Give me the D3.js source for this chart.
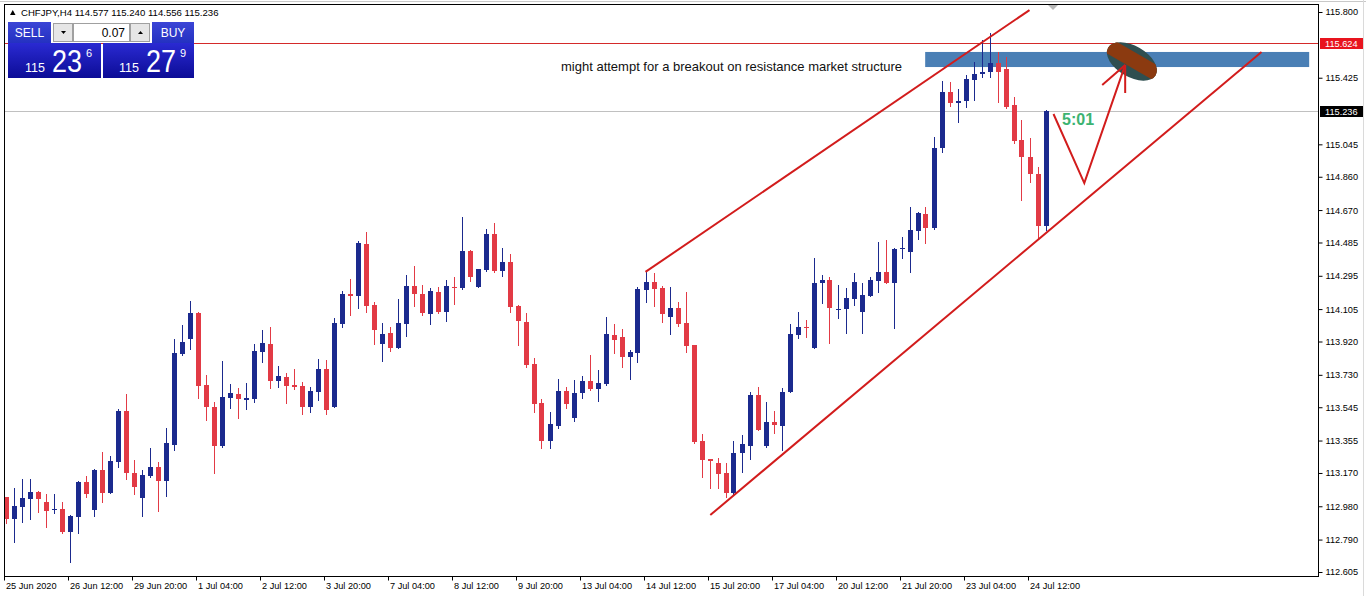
<!DOCTYPE html>
<html><head><meta charset="utf-8">
<script src="https://cdn.jsdelivr.net/npm/d3@7"></script>
<style>
html,body{margin:0;padding:0;background:#fff;overflow:hidden;}
svg{display:block;}
text{font-family:"Liberation Sans",Arial,sans-serif;}
</style></head><body>
<svg id="c" width="1366" height="596"></svg>
<script>
// ---- data (CHFJPY H4, 25 Jun 2020 04:00 .. 24 Jul 2020 20:00) ----
const symbol = "CHFJPY,H4";
const opens = [113.033,112.908,112.976,113.022,113.062,113.005,112.965,112.965,112.833,112.919,
113.119,112.959,113.187,113.056,113.233,113.524,113.170,113.027,113.153,113.204,
113.124,113.330,113.849,113.935,114.083,113.672,113.547,113.324,113.598,113.621,
113.587,113.592,113.860,113.906,113.695,113.718,113.672,113.666,113.547,113.632,
113.763,113.547,114.020,114.191,114.180,114.477,114.129,113.906,113.969,113.883,
114.020,114.237,114.191,114.077,114.203,114.089,114.231,114.226,114.437,114.231,
114.328,114.534,114.322,114.374,114.123,114.032,113.792,113.569,113.353,113.438,
113.638,113.484,113.626,113.695,113.649,113.678,113.957,113.946,113.832,113.855,
114.214,114.260,114.226,114.060,114.111,114.026,113.900,113.353,113.250,113.227,
113.170,113.056,113.284,113.324,113.615,113.324,113.461,113.438,113.632,113.957,
114.003,113.883,114.254,114.271,114.106,114.106,114.163,114.089,114.180,114.265,
114.317,114.254,114.448,114.431,114.551,114.648,114.568,115.024,115.344,115.281,
115.292,115.412,115.446,115.458,115.509,115.475,115.270,115.070,114.973,114.876,
114.577];
const highs = [113.033,113.085,113.136,113.136,113.067,113.050,113.050,113.005,112.930,113.124,
113.153,113.193,113.290,113.267,113.535,113.621,113.244,113.187,113.313,113.233,
113.427,113.935,114.014,114.151,114.089,113.729,113.575,113.809,113.678,113.655,
113.684,113.906,113.986,114.003,113.780,113.741,113.763,113.689,113.661,113.820,
113.815,114.054,114.208,114.277,114.494,114.545,114.146,114.026,114.003,114.163,
114.300,114.351,114.243,114.226,114.231,114.271,114.288,114.631,114.442,114.334,
114.562,114.596,114.454,114.419,114.129,114.083,113.826,113.592,113.518,113.706,
113.661,113.701,113.723,113.843,113.758,114.060,114.020,113.992,113.872,114.231,
114.317,114.311,114.237,114.231,114.146,114.203,113.900,113.393,113.250,113.256,
113.227,113.353,113.387,113.632,113.661,113.575,113.524,113.655,114.020,114.089,
114.043,114.397,114.300,114.288,114.243,114.226,114.311,114.254,114.288,114.488,
114.499,114.454,114.516,114.688,114.659,114.688,115.087,115.406,115.401,115.361,
115.441,115.515,115.640,115.680,115.572,115.543,115.315,115.184,115.081,114.916,
115.240];
const lows = [112.885,112.776,112.891,112.908,112.948,112.862,112.942,112.828,112.662,112.828,
113.033,112.925,113.005,113.056,113.204,113.136,113.050,112.925,113.147,112.953,
113.039,113.301,113.843,113.878,113.598,113.472,113.170,113.318,113.541,113.484,
113.535,113.575,113.803,113.655,113.661,113.569,113.649,113.507,113.518,113.587,
113.507,113.547,114.003,114.071,114.111,114.089,113.906,113.809,113.866,113.883,
113.952,114.123,114.071,114.020,114.083,114.037,114.134,114.220,114.265,114.231,
114.322,114.317,114.294,114.089,113.900,113.775,113.518,113.313,113.313,113.427,
113.541,113.467,113.598,113.644,113.581,113.672,113.855,113.775,113.706,113.803,
114.146,114.123,114.032,113.963,114.009,113.860,113.341,113.147,113.085,113.085,
113.033,113.045,113.176,113.250,113.415,113.318,113.398,113.301,113.632,113.940,
113.946,113.883,114.140,113.912,114.054,113.969,114.129,113.969,114.180,114.203,
114.254,113.997,114.397,114.317,114.505,114.482,114.562,115.001,115.264,115.173,
115.258,115.298,115.429,115.429,115.287,115.252,115.053,114.728,114.830,114.511,
114.556];
const closes = [112.908,112.982,113.027,113.062,113.022,112.953,112.966,112.833,112.925,113.119,
113.050,113.187,113.056,113.238,113.524,113.170,113.090,113.159,113.204,113.124,
113.341,113.855,113.917,114.083,113.666,113.547,113.324,113.604,113.626,113.592,
113.598,113.866,113.912,113.695,113.723,113.666,113.661,113.547,113.638,113.763,
113.530,114.026,114.191,114.180,114.482,114.123,113.986,113.963,113.883,114.026,
114.237,114.191,114.083,114.208,114.089,114.237,114.226,114.437,114.288,114.334,
114.534,114.322,114.374,114.117,114.037,113.786,113.564,113.353,113.450,113.638,
113.564,113.626,113.695,113.649,113.684,113.963,113.929,113.832,113.860,114.220,
114.260,114.220,114.077,114.111,114.020,113.895,113.347,113.244,113.238,113.164,
113.056,113.284,113.336,113.615,113.415,113.461,113.444,113.632,113.963,114.003,
113.997,114.254,114.271,114.111,114.106,114.168,114.260,114.186,114.271,114.317,
114.254,114.448,114.454,114.556,114.653,114.568,115.024,115.344,115.281,115.292,
115.418,115.446,115.458,115.509,115.458,115.258,115.064,114.973,114.876,114.579,
115.236];
const xTickLabels = ["25 Jun 2020","26 Jun 12:00","29 Jun 20:00","1 Jul 04:00","2 Jul 12:00",
"3 Jul 20:00","7 Jul 04:00","8 Jul 12:00","9 Jul 20:00","13 Jul 04:00","14 Jul 12:00",
"15 Jul 20:00","17 Jul 04:00","20 Jul 12:00","21 Jul 20:00","23 Jul 04:00","24 Jul 12:00"];
const xTickBars = [0,8,16,24,32,40,48,56,64,72,80,88,96,104,112,120,128];
const yTickValues = [115.800,115.425,115.045,114.860,114.670,114.485,114.295,114.105,
113.920,113.730,113.545,113.355,113.170,112.980,112.790,112.605];
const bidPrice = 115.236;
const resistancePrice = 115.624;
const sellPrice = ["115","23","6"];
const buyPrice = ["115","27","9"];
const lotSize = "0.07";
// drawn objects: [bar index, price]
const upperChannel = [[80,114.317],[128,115.811]];
const lowerChannel = [[88.1,112.930],[157,115.572]];
const vArrow = [[131,115.218],[134.85,114.824],[139.96,115.498]];
const arrowHeadA = [[139.96,115.498],[137.09,115.384]];
const arrowHeadB = [[139.96,115.498],[139.96,115.338]];
const zoneBox = {x0:114.96, x1:162.96, p0:115.572, p1:115.486};
const ellipseCenter = [140.8,115.518];
const noteText = "might attempt for a breakout on resistance market structure";
const timerText = "5:01";

// ---- layout ----
const W=1366,H=596;
const L=4,R=1318,T=4,B=576;
const svg=d3.select("#c");
const x=d3.scaleLinear().domain([0,130]).range([5.5,1045.5]);
const y=d3.scaleLinear().domain([112.605,115.800]).range([572,12]);
const BLUE="#1b2a8e", RED="#e23a45";

// window chrome
svg.append("rect").attr("width",W).attr("height",H).attr("fill","#fff");
svg.append("line").attr("x1",0).attr("x2",W).attr("y1",1.5).attr("y2",1.5).attr("stroke","#c8c8c8");
svg.append("line").attr("x1",1363.5).attr("x2",1363.5).attr("y1",0).attr("y2",H).attr("stroke","#dadada");

const plot=svg.append("g");
const clipId="plotclip";
const defs=svg.append("defs");
defs.append("clipPath").attr("id",clipId).append("rect")
  .attr("x",L+1).attr("y",T+1).attr("width",R-L-1).attr("height",B-T-1);
const inner=plot.append("g").attr("clip-path",`url(#${clipId})`);

// zone rectangle
inner.append("rect")
  .attr("x",x(zoneBox.x0)).attr("width",x(zoneBox.x1)-x(zoneBox.x0))
  .attr("y",y(zoneBox.p0)).attr("height",y(zoneBox.p1)-y(zoneBox.p0))
  .attr("fill","#4a7fb5");

// bid line
inner.append("line").attr("x1",L).attr("x2",R)
  .attr("y1",Math.round(y(bidPrice))+0.5).attr("y2",Math.round(y(bidPrice))+0.5)
  .attr("stroke","#c0c0c0");
// resistance line
inner.append("line").attr("x1",L).attr("x2",R)
  .attr("y1",Math.round(y(resistancePrice))+0.5).attr("y2",Math.round(y(resistancePrice))+0.5)
  .attr("stroke","#d42a2a");

// candles
const bars=d3.range(opens.length).map(i=>({i,o:opens[i],h:highs[i],l:lows[i],c:closes[i]}));
const cg=inner.append("g").attr("shape-rendering","crispEdges");
const cs=cg.selectAll("g").data(bars).join("g");
cs.append("line")
  .attr("x1",d=>Math.round(x(d.i))+0.5).attr("x2",d=>Math.round(x(d.i))+0.5)
  .attr("y1",d=>Math.round(y(d.h))).attr("y2",d=>Math.round(y(d.l))+1)
  .attr("stroke",d=>d.c>=d.o?BLUE:RED);
cs.append("rect")
  .attr("x",d=>Math.round(x(d.i))-2).attr("width",5)
  .attr("y",d=>Math.round(y(Math.max(d.o,d.c))))
  .attr("height",d=>Math.max(1,Math.round(y(Math.min(d.o,d.c)))-Math.round(y(Math.max(d.o,d.c)))))
  .attr("fill",d=>d.c>=d.o?BLUE:RED);

// channel lines
const line=d3.line().x(d=>x(d[0])).y(d=>y(d[1]));
[upperChannel,lowerChannel].forEach(pts=>{
  inner.append("path").attr("d",line(pts)).attr("stroke","#d21c1c").attr("stroke-width",2).attr("fill","none");
});

// ellipse with band colouring
const ecx=x(ellipseCenter[0]), ecy=y(ellipseCenter[1]);
defs.append("clipPath").attr("id","bandclip").append("rect")
  .attr("x",0).attr("width",W).attr("y",y(zoneBox.p0)).attr("height",y(zoneBox.p1)-y(zoneBox.p0));
const eg=inner.append("g");
eg.append("ellipse").attr("cx",ecx).attr("cy",ecy).attr("rx",27.5).attr("ry",15.5)
  .attr("transform",`rotate(30,${ecx},${ecy})`).attr("fill","#2f4f50");
eg.append("ellipse").attr("cx",ecx).attr("cy",ecy).attr("rx",27.5).attr("ry",15.5)
  .attr("transform",`rotate(30,${ecx},${ecy})`).attr("fill","#8b3a10").attr("clip-path","url(#bandclip)");

// V arrow
[vArrow,arrowHeadA,arrowHeadB].forEach(pts=>{
  inner.append("path").attr("d",line(pts)).attr("stroke","#d21c1c").attr("stroke-width",2)
    .attr("fill","none").attr("stroke-linejoin","miter");
});

// texts
inner.append("text").attr("x",561).attr("y",71).attr("font-size",13).attr("fill","#111").text(noteText);
inner.append("text").attr("x",1062).attr("y",125).attr("font-size",16).attr("font-weight","bold")
  .attr("fill","#3cb371").text(timerText);

// chart shift marker
svg.append("polygon").attr("points","1048,5 1058,5 1053,10").attr("fill","#b8b8b8");

// border
plot.append("rect").attr("x",L+0.5).attr("y",T+0.5).attr("width",R-L).attr("height",B-T)
  .attr("fill","none").attr("stroke","#000");

// y axis
const ya=svg.append("g").attr("transform",`translate(${R+0.5},0)`)
  .call(d3.axisRight(y).tickValues(yTickValues).tickFormat(d3.format(".3f")).tickSize(4).tickPadding(3));
ya.select(".domain").remove();
ya.selectAll("text").attr("font-size",9.2).attr("font-family","'Liberation Sans',Arial,sans-serif").attr("fill","#000");
ya.selectAll("line").attr("stroke","#000");

// price labels
function priceTag(p,bg){
  const yy=Math.round(y(p));
  svg.append("rect").attr("x",R+2).attr("y",yy-5).attr("width",43).attr("height",11).attr("fill",bg);
  svg.append("text").attr("x",R+7).attr("y",yy+4).attr("font-size",9.2).attr("fill","#fff").text(p.toFixed(3));
}
priceTag(resistancePrice,"#e8141e");
priceTag(bidPrice,"#000");

// x axis
const xa=svg.append("g").attr("transform",`translate(0,${B+0.5})`)
  .call(d3.axisBottom(x).tickValues(xTickBars).tickFormat((d,i)=>xTickLabels[i]).tickSize(4).tickPadding(2));
xa.select(".domain").remove();
xa.selectAll("line").attr("stroke","#000").attr("transform","translate(-1.5,0)");
xa.selectAll("text").attr("text-anchor","start").attr("dx",0).attr("font-size",9.2)
  .attr("font-family","'Liberation Sans',Arial,sans-serif").attr("fill","#000");

// header
const last=opens.length-1;
svg.append("polygon").attr("points","10,15 15.5,15 12.75,10").attr("fill","#000");
svg.append("text").attr("x",21).attr("y",16).attr("font-size",9.6).attr("fill","#000")
  .text(`${symbol} ${opens[last].toFixed(3)} ${highs[last].toFixed(3)} ${lows[last].toFixed(3)} ${closes[last].toFixed(3)}`);

// one-click trading panel
const grad=defs.append("linearGradient").attr("id","pbox").attr("x1",0).attr("x2",0).attr("y1",0).attr("y2",1);
grad.append("stop").attr("offset",0).attr("stop-color","#2a2ad2");
grad.append("stop").attr("offset",1).attr("stop-color","#0c0c96");
const tgrad=defs.append("linearGradient").attr("id","tbox").attr("x1",0).attr("x2",0).attr("y1",0).attr("y2",1);
tgrad.append("stop").attr("offset",0).attr("stop-color","#3b45d6");
tgrad.append("stop").attr("offset",1).attr("stop-color","#2330c0");
const pn=svg.append("g");
pn.append("rect").attr("x",8).attr("y",22).attr("width",43).attr("height",22).attr("fill","url(#tbox)");
pn.append("rect").attr("x",152).attr("y",22).attr("width",42).attr("height",22).attr("fill","url(#tbox)");
pn.append("rect").attr("x",53.5).attr("y",23.5).attr("width",19).attr("height",18).attr("fill","#e6e6e6").attr("stroke","#a0a0a0");
pn.append("rect").attr("x",73.5).attr("y",23.5).attr("width",56).attr("height",18).attr("fill","#fff").attr("stroke","#a0a0a0");
pn.append("rect").attr("x",130.5).attr("y",23.5).attr("width",19).attr("height",18).attr("fill","#e6e6e6").attr("stroke","#a0a0a0");
pn.append("polygon").attr("points","61,31 66,31 63.5,34").attr("fill","#000");
pn.append("polygon").attr("points","138,34 143,34 140.5,31").attr("fill","#000");
pn.append("text").attr("x",29.5).attr("y",37).attr("font-size",12).attr("fill","#fff").attr("text-anchor","middle").text("SELL");
pn.append("text").attr("x",173).attr("y",37).attr("font-size",12).attr("fill","#fff").attr("text-anchor","middle").text("BUY");
pn.append("text").attr("x",125).attr("y",37).attr("font-size",12).attr("fill","#000").attr("text-anchor","end").text(lotSize);
pn.append("rect").attr("x",8).attr("y",43).attr("width",93).attr("height",35).attr("fill","url(#pbox)");
pn.append("rect").attr("x",103).attr("y",43).attr("width",91).attr("height",35).attr("fill","url(#pbox)");
function priceText(x0,parts){
  pn.append("text").attr("x",x0).attr("y",72).attr("font-size",12.5).attr("fill","#fff").text(parts[0]);
  pn.append("text").attr("x",x0+27).attr("y",72).attr("font-size",31).attr("fill","#fff")
    .attr("textLength",30).attr("lengthAdjust","spacingAndGlyphs").text(parts[1]);
  pn.append("text").attr("x",x0+61).attr("y",57).attr("font-size",11).attr("fill","#fff").text(parts[2]);
}
priceText(25,sellPrice);
priceText(119,buyPrice);
</script>
</body></html>
